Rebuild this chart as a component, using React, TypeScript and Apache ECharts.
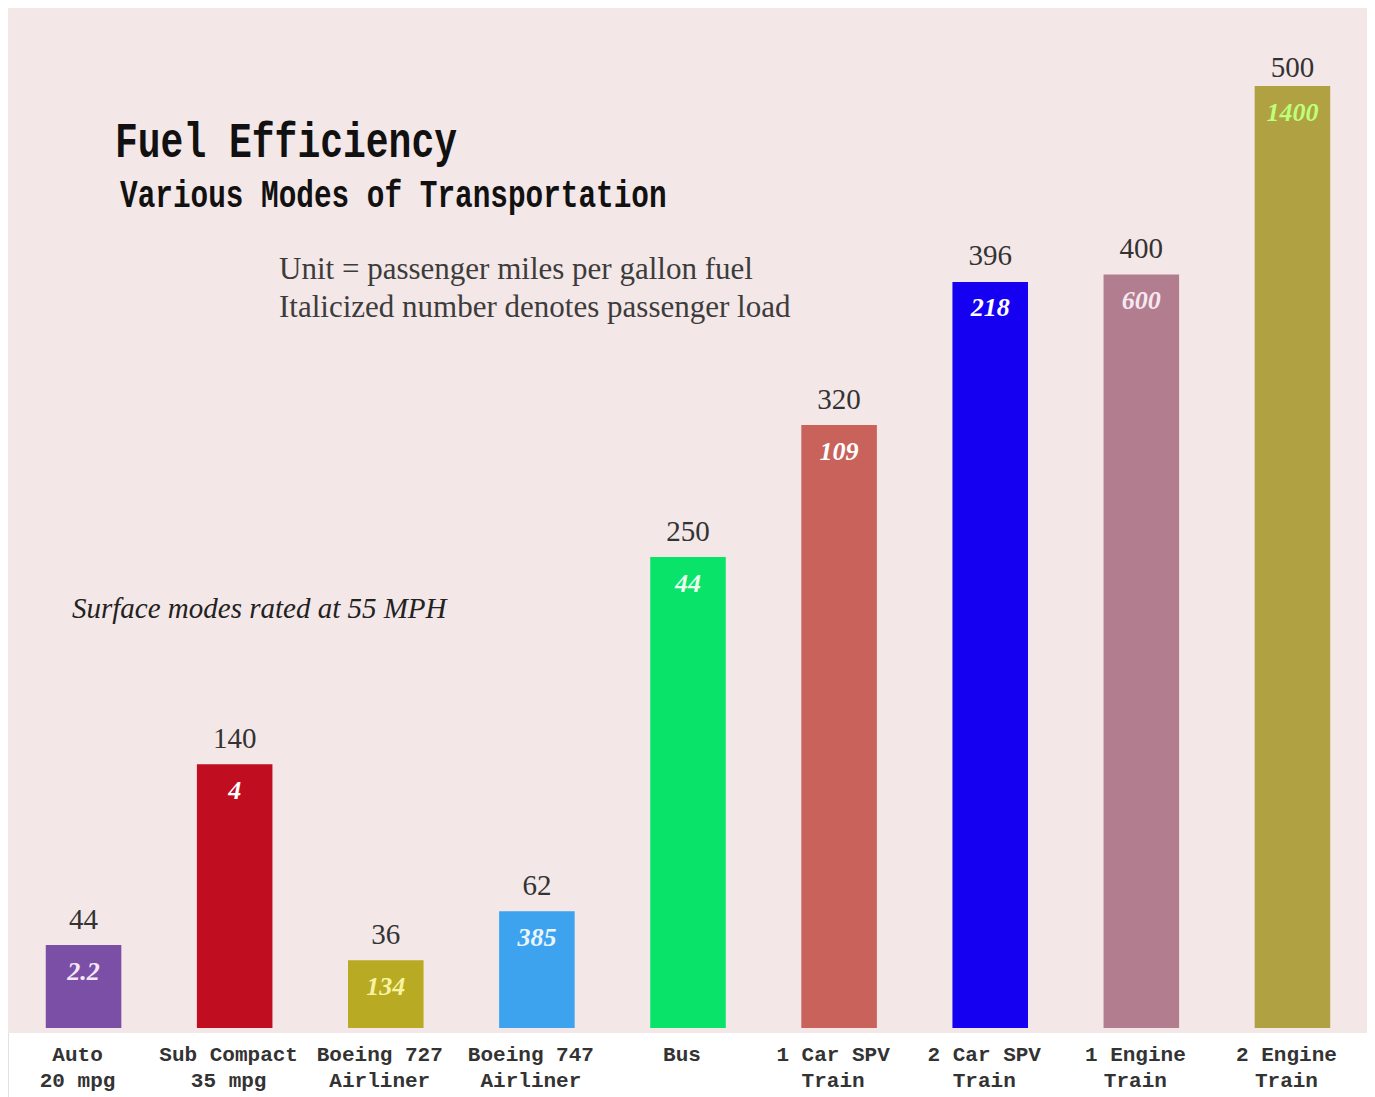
import React, { useEffect, useRef } from "react";
import * as echarts from "echarts";

const categories = [
  "Auto\n20 mpg",
  "Sub Compact\n35 mpg",
  "Boeing 727\nAirliner",
  "Boeing 747\nAirliner",
  "Bus",
  "1 Car SPV\nTrain",
  "2 Car SPV\nTrain",
  "1 Engine\nTrain",
  "2 Engine\nTrain",
];
const passengerMilesPerGallon = [44, 140, 36, 62, 250, 320, 396, 400, 500];
const passengerLoad = ["2.2", "4", "134", "385", "44", "109", "218", "600", "1400"];
const barColors = [
  "#7b4fa6",
  "#c00d20",
  "#b8aa22",
  "#3da3ef",
  "#09e36a",
  "#c8625b",
  "#1500f2",
  "#b27d8f",
  "#b0a143",
];
const loadColors = [
  "#f3e8f8",
  "#ffffff",
  "#f8f3a0",
  "#eaf5ff",
  "#eafff0",
  "#ffffff",
  "#ffffff",
  "#f6e8f0",
  "#bdff78",
];
const titleText = "Fuel Efficiency";
const subtitleText = "Various Modes of Transportation";
const unitNotes = [
  "Unit = passenger miles per gallon fuel",
  "Italicized number denotes passenger load",
];
const surfaceNote = "Surface modes rated at 55 MPH";

export default function App() {
  const ref = useRef<HTMLDivElement>(null);

  useEffect(() => {
    if (!ref.current) return;
    const chart = echarts.init(ref.current, undefined, { renderer: "svg" });
    const last = passengerMilesPerGallon.length - 1;
    const option = {
      animation: false,
      backgroundColor: "#ffffff",
      grid: { left: 0, right: 0, top: 78, bottom: 69, containLabel: false },
      xAxis: {
        type: "category",
        data: categories,
        axisLine: { show: false },
        axisTick: { show: false },
        splitLine: { show: false },
        axisLabel: {
          interval: 0,
          margin: 14,
          padding: [0, 12, 0, 0],
          fontFamily: "Liberation Mono",
          fontWeight: "bold",
          fontSize: 21,
          lineHeight: 26,
          color: "#333333",
        },
      },
      yAxis: {
        type: "value",
        min: 0,
        max: 500,
        show: false,
        splitLine: { show: false },
      },
      graphic: [
        {
          type: "rect",
          z: -100,
          silent: true,
          shape: { x: 0, y: 0, width: 1360, height: 1025 },
          style: { fill: "#f4e7e7" },
        },
        {
          type: "line",
          z: -100,
          shape: { x1: 0.5, y1: 1025, x2: 0.5, y2: 1089 },
          style: { stroke: "#e2e2e2", lineWidth: 1 },
        },
        {
          type: "line",
          z: -100,
          shape: { x1: 1359.5, y1: 1025, x2: 1359.5, y2: 1089 },
          style: { stroke: "#d8d8d8", lineWidth: 1 },
        },
        {
          type: "text",
          x: 107,
          y: 136,
          scaleY: 1.3,
          style: {
            text: titleText,
            fontFamily: "Liberation Mono",
            fontWeight: "bold",
            fontSize: 38,
            fill: "#111111",
            textVerticalAlign: "middle",
          },
        },
        {
          type: "text",
          x: 112,
          y: 189,
          scaleY: 1.3,
          style: {
            text: subtitleText,
            fontFamily: "Liberation Mono",
            fontWeight: "bold",
            fontSize: 29.4,
            fill: "#111111",
            textVerticalAlign: "middle",
          },
        },
        ...unitNotes.map((t, i) => ({
          type: "text",
          x: 271,
          y: 260 + i * 38,
          scaleX: 1.07,
          scaleY: 1.08,
          style: {
            text: t,
            fontFamily: "Liberation Serif",
            fontSize: 29,
            fill: "#3c3c3c",
            textVerticalAlign: "middle",
          },
        })),
        {
          type: "text",
          x: 64,
          y: 600,
          style: {
            text: surfaceNote,
            fontFamily: "Liberation Serif",
            fontStyle: "italic",
            fontSize: 29,
            fill: "#222222",
            textVerticalAlign: "middle",
          },
        },
      ],
      series: [
        {
          type: "bar",
          barWidth: "50%",
          barGap: "-100%",
          silent: true,
          data: passengerMilesPerGallon.map((v, i) => ({
            value: v,
            itemStyle: { color: barColors[i] },
            label: { distance: i === last ? 5 : 12 },
          })),
          label: {
            show: true,
            position: "top",
            fontFamily: "Liberation Serif",
            fontSize: 29,
            color: "#333333",
          },
        },
        {
          type: "bar",
          barWidth: "50%",
          barGap: "-100%",
          silent: true,
          data: passengerMilesPerGallon.map((v, i) => ({
            value: v,
            label: { color: loadColors[i] },
          })),
          itemStyle: { color: "rgba(0,0,0,0)" },
          label: {
            show: true,
            position: "insideTop",
            distance: 13,
            fontFamily: "Liberation Serif",
            fontStyle: "italic",
            fontWeight: "bold",
            fontSize: 26,
            formatter: (p: any) => passengerLoad[p.dataIndex],
          },
        },
      ],
    };
    chart.setOption(option as any);
    return () => chart.dispose();
  }, []);

  return <div ref={ref} style={{ width: 1360, height: 1089 }} />;
}
